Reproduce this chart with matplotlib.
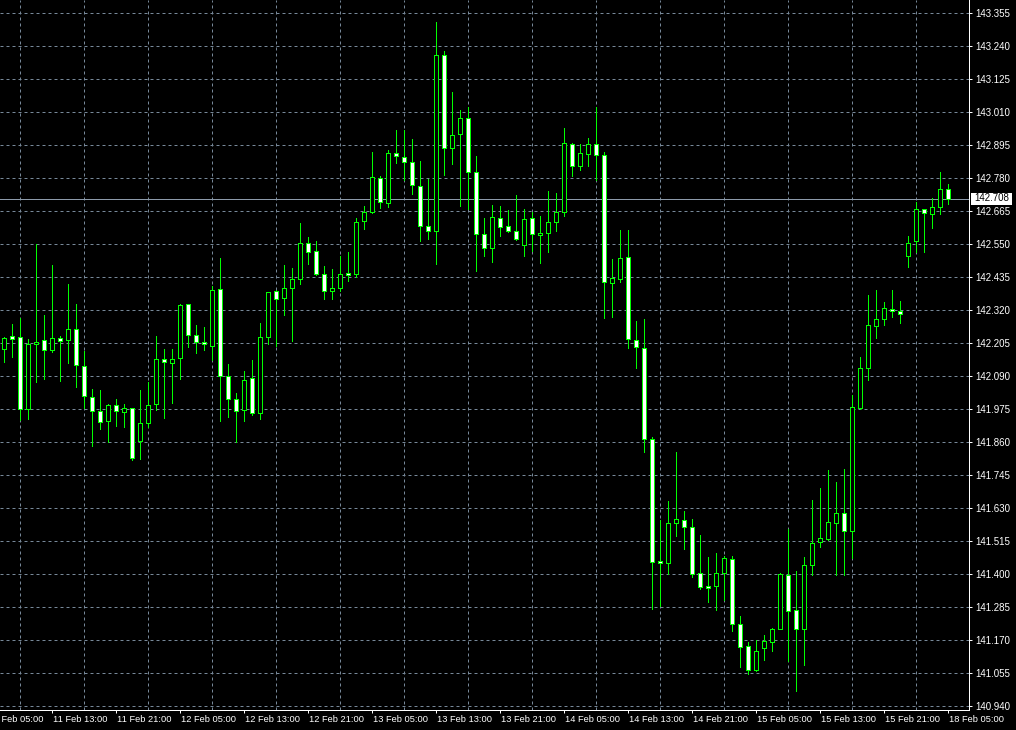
import matplotlib
matplotlib.use('Agg')
import matplotlib.pyplot as plt
from matplotlib.patches import Rectangle

plt.rcParams['font.family'] = ['Liberation Sans', 'DejaVu Sans']

# ---- data: hourly bars (open, high, low, close) ----
opens = [142.184, 142.229, 142.226, 141.975, 142.201, 142.215, 142.181, 142.222, 142.215, 142.254,
         142.125, 142.017, 141.968, 141.933, 141.989, 141.965, 141.978, 141.863, 141.926, 141.992,
         142.149, 142.135, 142.153, 142.341, 142.233, 142.208, 142.195, 142.393, 142.090, 142.010,
         141.971, 142.083, 141.961, 142.226, 142.386, 142.362, 142.397, 142.428, 142.553, 142.526,
         142.445, 142.386, 142.397, 142.449, 142.445, 142.630, 142.662, 142.780, 142.693, 142.867,
         142.853, 142.836, 142.752, 142.613, 142.595, 143.209, 142.885, 142.933, 142.989, 142.801,
         142.585, 142.536, 142.641, 142.613, 142.595, 142.547, 142.641, 142.581, 142.588, 142.627,
         142.662, 142.898, 142.822, 142.864, 142.898, 142.860, 142.414, 142.428, 142.505, 142.215,
         142.188, 141.870, 141.445, 141.438, 141.578, 141.588, 141.564, 141.403, 141.358, 141.358,
         141.403, 141.452, 141.226, 141.149, 141.065, 141.142, 141.163, 141.208, 141.397, 141.275,
         141.208, 141.431, 141.512, 141.522, 141.578, 141.613, 141.550, 141.978, 142.118, 142.264,
         142.289, 142.323, 142.316, 142.508, 142.560, 142.672, 142.655, 142.679, 142.742]
highs = [142.226, 142.272, 142.292, 142.219, 142.551, 142.304, 142.478, 142.230, 142.412, 142.342,
         142.178, 142.045, 142.041, 141.992, 142.010, 141.993, 141.980, 142.041, 142.069, 142.230,
         142.184, 142.184, 142.341, 142.341, 142.268, 142.261, 142.404, 142.501, 142.132, 142.031,
         142.107, 142.146, 142.275, 142.385, 142.390, 142.477, 142.466, 142.623, 142.574, 142.560,
         142.474, 142.463, 142.508, 142.522, 142.641, 142.682, 142.871, 142.787, 142.878, 142.947,
         142.947, 142.916, 142.839, 142.776, 143.324, 143.223, 143.080, 143.017, 143.027, 142.858,
         142.641, 142.686, 142.682, 142.668, 142.721, 142.672, 142.662, 142.648, 142.735, 142.728,
         142.954, 142.902, 142.898, 142.919, 143.027, 142.871, 142.498, 142.600, 142.600, 142.282,
         142.289, 141.877, 141.588, 141.654, 141.825, 141.620, 141.592, 141.536, 141.459, 141.473,
         141.463, 141.463, 141.254, 141.163, 141.170, 141.187, 141.212, 141.403, 141.557, 141.410,
         141.459, 141.659, 141.700, 141.762, 141.721, 141.766, 142.024, 142.156, 142.372, 142.390,
         142.348, 142.390, 142.351, 142.578, 142.696, 142.674, 142.710, 142.801, 142.759]
lows = [142.141, 142.158, 141.938, 141.942, 142.071, 142.082, 142.175, 142.075, 142.135, 142.052,
        141.978, 141.848, 141.907, 141.860, 141.916, 141.912, 141.797, 141.803, 141.912, 141.971,
        141.946, 141.996, 142.080, 142.191, 142.170, 142.181, 142.146, 141.935, 141.949, 141.860,
        141.933, 141.954, 141.942, 142.201, 142.195, 142.303, 142.212, 142.411, 142.480, 142.442,
        142.358, 142.358, 142.387, 142.421, 142.435, 142.602, 142.660, 142.675, 142.679, 142.832,
        142.773, 142.724, 142.560, 142.567, 142.480, 142.790, 142.829, 142.682, 142.672, 142.458,
        142.510, 142.489, 142.580, 142.594, 142.564, 142.510, 142.526, 142.486, 142.524, 142.597,
        142.648, 142.787, 142.808, 142.822, 142.773, 142.292, 142.295, 142.420, 142.188, 142.120,
        141.827, 141.278, 141.288, 141.400, 141.532, 141.487, 141.390, 141.348, 141.302, 141.275,
        141.309, 141.201, 141.076, 141.052, 141.062, 141.100, 141.132, 141.208, 141.097, 140.992,
        141.083, 141.397, 141.494, 141.520, 141.397, 141.397, 141.456, 141.975, 142.076, 142.222,
        142.268, 142.297, 142.275, 142.470, 142.522, 142.522, 142.606, 142.655, 142.689]
closes = [142.222, 142.221, 141.976, 142.201, 142.208, 142.181, 142.222, 142.212, 142.254, 142.128,
          142.020, 141.968, 141.930, 141.989, 141.968, 141.978, 141.804, 141.926, 141.989, 142.149,
          142.139, 142.149, 142.337, 142.233, 142.208, 142.201, 142.390, 142.090, 142.010, 141.968,
          142.076, 141.961, 142.226, 142.383, 142.358, 142.397, 142.428, 142.553, 142.522, 142.445,
          142.386, 142.397, 142.445, 142.443, 142.627, 142.662, 142.783, 142.696, 142.867, 142.857,
          142.836, 142.756, 142.613, 142.595, 143.209, 142.885, 142.930, 142.989, 142.801, 142.585,
          142.536, 142.644, 142.609, 142.595, 142.567, 142.637, 142.585, 142.588, 142.627, 142.662,
          142.902, 142.822, 142.867, 142.898, 142.860, 142.418, 142.432, 142.501, 142.219, 142.191,
          141.870, 141.442, 141.438, 141.578, 141.592, 141.564, 141.400, 141.355, 141.351, 141.403,
          141.456, 141.226, 141.146, 141.065, 141.132, 141.167, 141.208, 141.400, 141.271, 141.208,
          141.431, 141.508, 141.525, 141.581, 141.613, 141.550, 141.982, 142.118, 142.268, 142.289,
          142.327, 142.316, 142.306, 142.553, 142.672, 142.658, 142.679, 142.742, 142.708]

price_labels = ["143.355", "143.240", "143.125", "143.010", "142.895", "142.780", "142.665",
                "142.550", "142.435", "142.320", "142.205", "142.090", "141.975", "141.860",
                "141.745", "141.630", "141.515", "141.400", "141.285", "141.170", "141.055",
                "140.940"]
time_labels = ["11 Feb 05:00", "11 Feb 13:00", "11 Feb 21:00", "12 Feb 05:00", "12 Feb 13:00",
               "12 Feb 21:00", "13 Feb 05:00", "13 Feb 13:00", "13 Feb 21:00", "14 Feb 05:00",
               "14 Feb 13:00", "14 Feb 21:00", "15 Feb 05:00", "15 Feb 13:00", "15 Feb 21:00",
               "18 Feb 05:00"]
time_label_bar = [-2, 6, 14, 22, 30, 38, 46, 54, 62, 70, 78, 86, 94, 102, 110, 118]
current_price = 142.708

# ---- style ----
GREEN = '#00FF00'
GRID = '#778899'
LW = 0.72  # ~1 px

fig = plt.figure(figsize=(10.16, 7.30), dpi=100, facecolor='black')
ax = fig.add_axes([0, 20 / 730, 969 / 1016, 710 / 730])
ax.set_facecolor('black')
ax.set_xlim(-0.5375, 120.5875)
ax.set_ylim(140.9271, 143.4013)

n = len(opens)
xs = list(range(n))

# wicks
ax.vlines(xs, lows, highs, colors=GREEN, linewidth=LW, zorder=3, antialiased=False)
# bodies
bottoms = [min(o, c) for o, c in zip(opens, closes)]
heights = [max(abs(c - o), 0.0008) for o, c in zip(opens, closes)]
fills = ['black' if c > o else 'white' for o, c in zip(opens, closes)]
ax.bar(xs, heights, bottom=bottoms, width=0.5, color=fills, edgecolor=GREEN,
       linewidth=LW, zorder=4, antialiased=False)

# axes / spines
for s in ['left', 'top']:
    ax.spines[s].set_visible(False)
for s in ['right', 'bottom']:
    ax.spines[s].set_color('white')
    ax.spines[s].set_linewidth(LW)

# y axis on the right
ax.yaxis.tick_right()
ax.set_yticks([float(p) for p in price_labels], price_labels)
ax.tick_params(axis='y', colors='white', length=2.2, width=LW, pad=2.2, labelsize=7)
ax.yaxis.grid(True, color=GRID, linestyle=(0, (3, 3)), linewidth=LW)

# x axis
ax.set_xticks([b for b in time_label_bar if b >= 0])
ax.set_xticks(list(range(2, n, 4)), minor=True)
ax.tick_params(axis='x', which='major', colors='white', length=2.5, width=LW,
               labelbottom=False)
ax.tick_params(axis='x', which='minor', length=0)
ax.xaxis.grid(True, which='minor', color=GRID, linestyle=(0, (3, 3)), linewidth=LW)
ax.xaxis.grid(False, which='major')
ax.set_axisbelow(True)

for lbl, b in zip(time_labels, time_label_bar):
    ax.annotate(lbl, xy=(b, 0), xycoords=('data', 'axes fraction'), xytext=(0.3, -3.6),
                textcoords='offset points', ha='left', va='top', color='white',
                fontsize=6.7, annotation_clip=False)

# current price line and label
ax.axhline(current_price, color='#8C9AAA', linewidth=LW, zorder=2)
tr = ax.get_yaxis_transform()
px = 0.0034848
ax.add_patch(Rectangle((970.7 / 969, current_price - 6 * px), 41.6 / 969, 12 * px,
                       transform=tr, facecolor='white', edgecolor='none', clip_on=False,
                       zorder=5))
ax.text(974.7 / 969, current_price + 0.5 * px, f"{current_price:.3f}", transform=tr,
        color='black', ha='left', va='center', fontsize=7, clip_on=False, zorder=6)

fig.savefig('out.png', dpi=100, facecolor='black')
